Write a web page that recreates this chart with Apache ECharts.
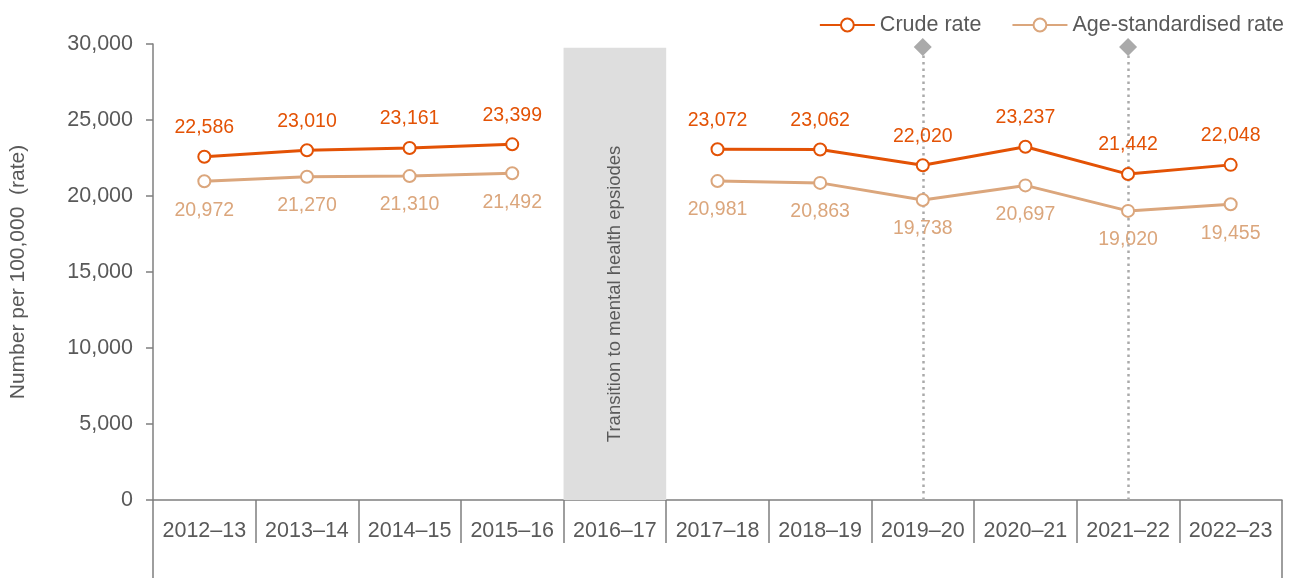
<!DOCTYPE html>
<html>
<head>
<meta charset="utf-8">
<script src="https://cdn.jsdelivr.net/npm/echarts@6/dist/echarts.min.js"></script>
<style>
  html, body { margin: 0; padding: 0; background: #fff; }
  #chart { width: 1301px; height: 578px; }
</style>
</head>
<body>
<div id="chart"></div>
<script>
const years = ['2012–13', '2013–14', '2014–15', '2015–16', '2016–17', '2017–18', '2018–19', '2019–20', '2020–21', '2021–22', '2022–23'];
const crudeRate = [22586, 23010, 23161, 23399, null, 23072, 23062, 22020, 23237, 21442, 22048];
const ageStdRate = [20972, 21270, 21310, 21492, null, 20981, 20863, 19738, 20697, 19020, 19455];
// grey band marking the break in the series (height)
const transitionBand = [null, null, null, null, 29750, null, null, null, null, null, null];
const transitionText = 'Transition to mental health epsiodes';
const markerYears = ['2019–20', '2021–22'];

const CRUDE = '#e35205';
const AGE = '#dba67c';
const TEXT = '#595959';
const AXIS = '#7f7f7f';
const FONT = '"Liberation Sans", Arial, sans-serif';

const fmt = (v) => v.toLocaleString('en-US');

const chart = echarts.init(document.getElementById('chart'));

chart.setOption({
  animation: false,
  textStyle: { fontFamily: FONT },
  grid: { left: 153, right: 19, top: 44, bottom: 78 },
  legend: {
    top: 9,
    right: 12,
    itemWidth: 55,
    itemHeight: 16,
    itemGap: 30,
    textStyle: { color: TEXT, fontSize: 21.5, fontFamily: FONT },
    data: ['Crude rate', 'Age-standardised rate'],
  },
  xAxis: [
    {
      type: 'category',
      data: years,
      boundaryGap: true,
      axisLine: { lineStyle: { color: AXIS, width: 1.5 } },
      axisTick: { show: true, interval: 0, length: 43, lineStyle: { color: AXIS, width: 1.5 } },
      axisLabel: { color: TEXT, fontSize: 21.5, margin: 20, interval: 0 },
    },
    {
      type: 'category',
      data: [''],
      position: 'bottom',
      offset: 0,
      boundaryGap: true,
      axisLine: { show: false },
      axisTick: { show: true, length: 78, lineStyle: { color: AXIS, width: 1.5 } },
      axisLabel: { show: false },
    },
  ],
  yAxis: {
    type: 'value',
    min: 0,
    max: 30000,
    interval: 5000,
    name: 'Number per 100,000  (rate)',
    nameLocation: 'middle',
    nameGap: 124,
    nameRotate: 90,
    nameTextStyle: { color: TEXT, fontSize: 21 },
    axisLine: { show: true, lineStyle: { color: AXIS, width: 1.5 } },
    axisTick: { show: true, length: 7, lineStyle: { color: AXIS, width: 1.5 } },
    axisLabel: { color: TEXT, fontSize: 21.5, margin: 20, formatter: (v) => fmt(v) },
    splitLine: { show: false },
  },
  series: [
    {
      name: 'transition',
      type: 'bar',
      data: transitionBand,
      barWidth: '100%',
      silent: true,
      z: 1,
      itemStyle: { color: '#dedede' },
      label: {
        show: true,
        position: 'inside',
        rotate: 90,
        offset: [-20, 0],
        color: TEXT,
        fontSize: 18.5,
        formatter: transitionText,
      },
    },
    {
      name: 'Crude rate',
      type: 'line',
      data: crudeRate,
      connectNulls: false,
      symbol: 'emptyCircle',
      symbolSize: 12,
      lineStyle: { color: CRUDE, width: 3 },
      itemStyle: { color: CRUDE, borderWidth: 3 },
      z: 5,
      label: {
        show: true,
        position: 'top',
        distance: 12,
        color: CRUDE,
        fontSize: 19.5,
        formatter: (p) => fmt(p.value),
      },
    },
    {
      name: 'Age-standardised rate',
      type: 'line',
      data: ageStdRate,
      connectNulls: false,
      symbol: 'emptyCircle',
      symbolSize: 12,
      lineStyle: { color: AGE, width: 3 },
      itemStyle: { color: AGE, borderWidth: 3 },
      z: 5,
      label: {
        show: true,
        position: 'bottom',
        distance: 12,
        color: AGE,
        fontSize: 19.5,
        formatter: (p) => fmt(p.value),
      },
      markLine: {
        silent: true,
        symbol: ['none', 'diamond'],
        symbolSize: [18, 18],
        label: { show: false },
        lineStyle: { color: '#aaaaaa', type: [2.5, 4], width: 2.5 },
        data: markerYears.map((y) => [
          { xAxis: y, yAxis: 0 },
          { xAxis: y, yAxis: 29800 },
        ]),
        z: 1,
      },
    },
  ],
});
</script>
</body>
</html>
